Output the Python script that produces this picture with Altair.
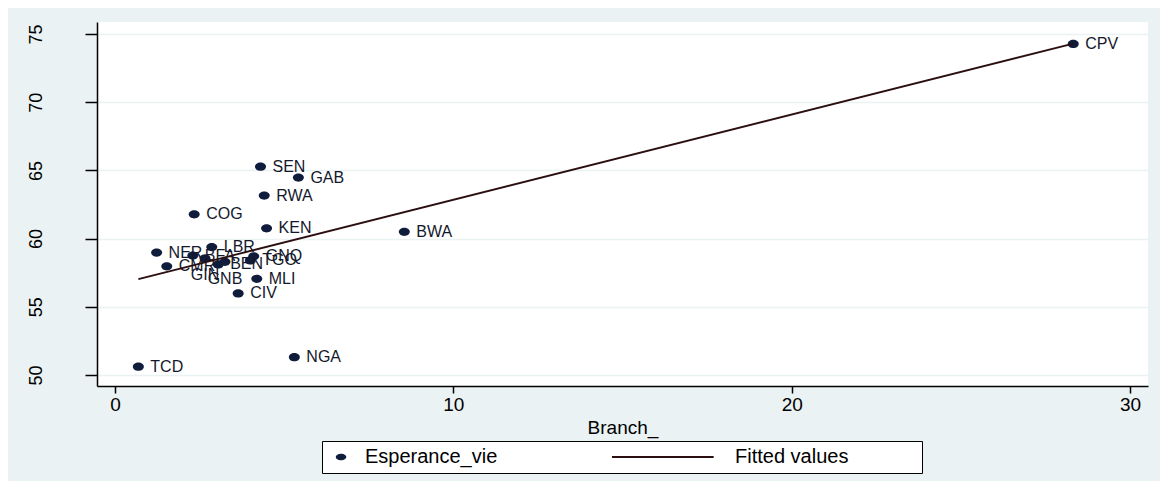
import altair as alt
import pandas as pd

# ---- data ----
codes = ["SEN", "GAB", "RWA", "COG", "KEN", "BWA", "LBR", "NER", "CMR", "MLI",
         "CIV", "NGA", "TCD", "CPV", "BFA", "BEN", "GNQ", "TGO", "GIN", "GNB"]
branch = [4.30, 5.42, 4.41, 2.34, 4.48, 8.55, 2.86, 1.23, 1.53, 4.19,
          3.64, 5.30, 0.69, 28.32, 2.30, 3.05, 4.10, 4.00, 2.66, 3.25]
esperance = [65.27, 64.47, 63.15, 61.78, 60.75, 60.50, 59.38, 58.97, 57.97, 57.05,
             55.98, 51.30, 50.61, 74.27, 58.75, 58.10, 58.70, 58.40, 58.55, 58.30]
x_ticks = [0, 10, 20, 30]
y_ticks = [50, 55, 60, 65, 70, 75]
series_names = ["Esperance_vie", "Fitted values"]

# ---- styling ----
labels_below = ["GIN", "GNB"]
FONT = "Liberation Sans"
NAVY = "#101c3c"
LINE = "#2b0f10"
TXT = "#14182c"
BG = "#EAF2F3"
ELLIPSE = "M-1,0A1,0.75,0,1,0,1,0A1,0.75,0,1,0,-1,0Z"
LEG_DOT = "M-0.325,0A0.525,0.325,0,1,0,0.725,0A0.525,0.325,0,1,0,-0.325,0Z"
LEG_LINE = "M-1,-0.019L0.9,-0.019L0.9,0.019L-1,0.019Z"
LEG_SIZES = [400, 11449]
PAD_RIGHT = chr(0xA0) * 12 + chr(0x200B)

df = pd.DataFrame({"code": codes, "Branch_": branch, "Esperance_vie": esperance})
df["series"] = series_names[0]
df["pos"] = ["below" if c in labels_below else "right" for c in codes]

x_enc = alt.X(
    "Branch_:Q",
    scale=alt.Scale(domain=[-0.532, 30.53], nice=False, zero=False),
    axis=alt.Axis(values=x_ticks, title="Branch_", grid=False, tickSize=7,
                  labelPadding=2, labelFontSize=19, titleFontSize=19,
                  titlePadding=4, format="d"),
)
y_enc = alt.Y(
    "Esperance_vie:Q",
    scale=alt.Scale(domain=[49.19, 75.88], nice=False, zero=False),
    axis=alt.Axis(values=y_ticks, title=None, grid=True, tickSize=12,
                  labelAngle=270, labelAlign="center", labelBaseline="middle",
                  labelPadding=49, labelFontSize=18, format="d"),
)

legend = alt.Legend(
    title=None, orient="none", legendX=225, legendY=419, direction="horizontal",
    fillColor="white", strokeColor="black", padding=6, clipHeight=20,
    symbolStrokeWidth=1.5, symbolStrokeColor="#1a1626",
    symbolOpacity=1, labelOffset=15, columnPadding=113,
    labelFont=FONT, labelFontSize=20, labelColor="black", labelLimit=500,
    labelExpr=f"datum.value == 'Fitted values' ? datum.label + '{PAD_RIGHT}' : datum.label",
)

points = alt.Chart(df).mark_point(
    filled=True, shape=ELLIPSE, size=121, opacity=1, color=NAVY
).encode(x=x_enc, y=y_enc)

labels_right = alt.Chart(df).transform_filter("datum.pos == 'right'").mark_text(
    align="left", baseline="middle", dx=12, fontSize=16, font=FONT, color=TXT
).encode(x=x_enc, y=y_enc, text="code:N")

labels_bottom = alt.Chart(df).transform_filter("datum.pos == 'below'").mark_text(
    align="center", baseline="middle", dy=17, fontSize=16, font=FONT, color=TXT
).encode(x=x_enc, y=y_enc, text="code:N")

fit = alt.Chart(df).transform_regression(
    "Branch_", "Esperance_vie"
).mark_line(strokeWidth=1.8, color=LINE).encode(x=x_enc, y=y_enc)

legend_layer = alt.Chart(df).transform_filter("false").mark_point(
    filled=True, opacity=1
).encode(
    x=x_enc, y=y_enc,
    color=alt.Color("series:N", scale=alt.Scale(domain=series_names, range=[NAVY, LINE]),
                    legend=legend),
    shape=alt.Shape("series:N", scale=alt.Scale(domain=series_names, range=[LEG_DOT, LEG_LINE]),
                    legend=legend),
    size=alt.Size("series:N", scale=alt.Scale(domain=series_names, range=LEG_SIZES),
                  legend=legend),
)

chart = alt.layer(points, labels_right, labels_bottom, fit, legend_layer).properties(
    width=1051, height=364, background=BG,
    padding={"left": 89, "top": 14, "right": 12, "bottom": 95},
    autosize=alt.AutoSizeParams(type="none"),
).configure_view(
    fill="white", strokeWidth=0
).configure_axis(
    domainColor="black", domainWidth=1.5, tickColor="black", tickWidth=1.5,
    labelColor="black", labelFont=FONT, titleFont=FONT, titleColor="black",
    titleFontWeight="normal", gridColor=BG, gridWidth=1.5,
)

chart.save("out.html", embed_options={"renderer": "svg", "actions": False})
